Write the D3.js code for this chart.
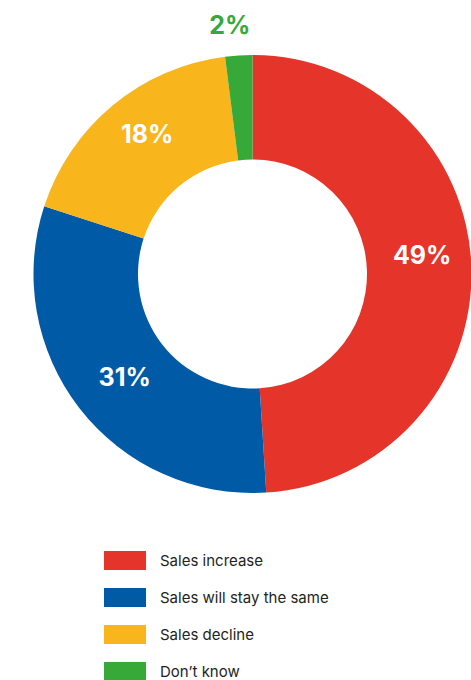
<!DOCTYPE html>
<html>
<head>
<meta charset="utf-8">
<script src="https://cdn.jsdelivr.net/npm/d3@7"></script>
<style>
  html, body { margin: 0; padding: 0; background: #fff; }
  svg { display: block; font-family: "Inter", "Roboto", sans-serif; }
</style>
</head>
<body>
<svg id="chart" width="471" height="680"></svg>
<script>
// chart data
var categories = ["Sales increase", "Sales will stay the same", "Sales decline", "Don\u2019t know"];
var shares = [49, 31, 18, 2];
var labels = ["49%", "31%", "18%", "2%"];
var colors = ["#e5352b", "#015aa6", "#f8b51c", "#36a938"];

var svg = d3.select("#chart");

var cx = 252.5, cy = 274;
var outerR = 219, innerR = 114.5;

var g = svg.append("g")
    .attr("transform", "translate(" + cx + "," + cy + ")");

var pie = d3.pie().sort(null).value(function(d) { return d; });
var arc = d3.arc().innerRadius(innerR).outerRadius(outerR);
var arcs = pie(shares);

// slices
g.selectAll("path.slice")
    .data(arcs)
    .enter()
    .append("path")
    .attr("class", "slice")
    .attr("d", arc)
    .attr("fill", function(d, i) { return colors[i]; });

// label arc - the small slice gets its label outside the ring
var labelArc = d3.arc().innerRadius(innerR).outerRadius(outerR);
var outsideArc = d3.arc().innerRadius(250).outerRadius(250);
// hand nudges so labels sit where the original put them
var nudge = [[3, -14], [4, 1], [1, -12], [-7, 1]];

g.selectAll("text.pct")
    .data(arcs)
    .enter()
    .append("text")
    .attr("class", "pct")
    .attr("transform", function(d, i) {
        var c = i === 3 ? outsideArc.centroid(d) : labelArc.centroid(d);
        return "translate(" + (c[0] + nudge[i][0]) + "," + (c[1] + nudge[i][1]) + ")";
    })
    .attr("text-anchor", "middle")
    .attr("dy", "0.36em")
    .attr("font-size", "25px")
    .attr("font-weight", 700)
    .attr("fill", function(d, i) { return i === 3 ? colors[3] : "#fff"; })
    .text(function(d, i) { return labels[i]; });

// legend
var legendY = d3.scaleBand()
    .domain(categories)
    .range([542, 690])
    .paddingInner(0);

var legend = svg.append("g");

var item = legend.selectAll("g")
    .data(categories)
    .enter()
    .append("g")
    .attr("transform", function(d) {
        return "translate(104," + (legendY(d) + legendY.bandwidth() / 2) + ")";
    });

item.append("rect")
    .attr("x", 0)
    .attr("y", -9.5)
    .attr("width", 42)
    .attr("height", 19)
    .attr("fill", function(d, i) { return colors[i]; });

item.append("text")
    .attr("x", 56)
    .attr("dy", "0.35em")
    .attr("font-size", "15px")
    .attr("fill", "#231f20")
    .text(function(d) { return d; });
</script>
</body>
</html>
